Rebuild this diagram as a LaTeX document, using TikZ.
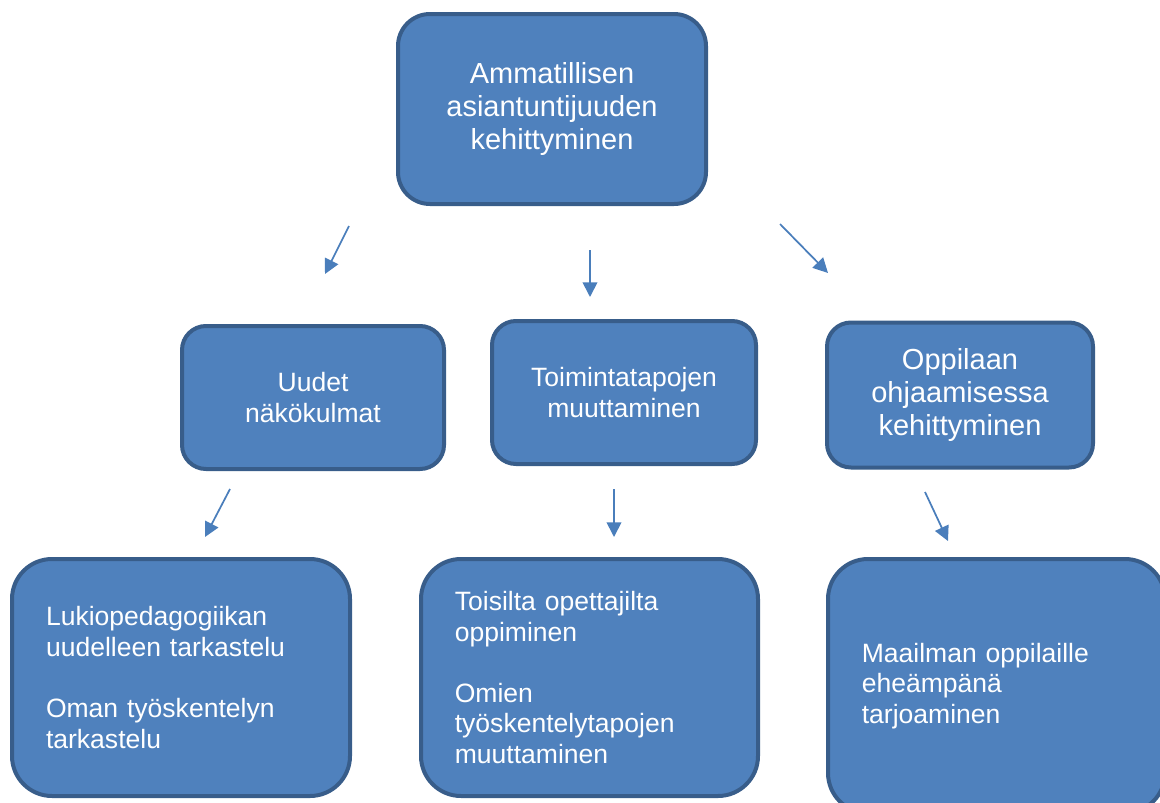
\documentclass[tikz,border=0pt]{standalone}
\usepackage{fontspec}
\setmainfont{Liberation Sans}
\usetikzlibrary{arrows.meta}
\definecolor{boxblue}{RGB}{79,129,189}
\definecolor{boxedge}{RGB}{56,93,138}
\definecolor{arrowblue}{RGB}{74,126,187}
\newcommand{\smalltxt}{\fontsize{19.9pt}{22.9pt}\selectfont}
\newcommand{\bigtxt}{\fontsize{21.75pt}{24.75pt}\selectfont}

\begin{document}
\begin{tikzpicture}[x=0.75pt,y=-0.75pt,
    box/.style={draw=boxedge,fill=boxblue,line width=3pt,text=white,inner sep=0pt},
    arr/.style={draw=arrowblue,line width=1.3pt,-{Triangle[length=11pt,width=11pt]}}]
    \useasboundingbox (0,0) rectangle (1160,803);
    \clip (0,0) rectangle (1160,803);
    % top
    \node[box,rounded corners=24pt,minimum width=231pt,minimum height=142.5pt,font=\bigtxt,align=center] (top) at (552,109) {Ammatillisen\\asiantuntijuuden\\kehittyminen};
    % middle row
    \node[box,rounded corners=18pt,minimum width=196.5pt,minimum height=107.25pt,font=\smalltxt,align=center] (uudet) at (313,397.5) {Uudet\\näkökulmat};
    \node[box,rounded corners=18pt,minimum width=198pt,minimum height=107.25pt,font=\smalltxt,align=center] (toim) at (624,392.5) {Toimintatapojen\\muuttaminen};
    \node[box,rounded corners=18pt,minimum width=199.5pt,minimum height=108.75pt,font=\bigtxt,align=center] (oppi) at (960,395) {Oppilaan\\ohjaamisessa\\kehittyminen};
    % bottom row
    \node[box,rounded corners=30pt,minimum width=253.5pt,minimum height=177.75pt,font=\smalltxt,align=left,text width=202.5pt] (luki) at (181,677.5) {Lukiopedagogiikan\\uudelleen tarkastelu\\[22.9pt]Oman työskentelyn\\tarkastelu};
    \node[box,rounded corners=30pt,minimum width=252.75pt,minimum height=177.75pt,font=\smalltxt,align=left,text width=202pt] (tois) at (589.5,677.5) {Toisilta opettajilta\\oppiminen\\[22.9pt]Omien\\työskentelytapojen\\muuttaminen};
    \node[box,rounded corners=30pt,minimum width=252.75pt,minimum height=190.5pt,font=\smalltxt,align=left,text width=202pt] (maai) at (996.5,686) {Maailman oppilaille\\eheämpänä\\tarjoaminen};
    % arrows
    \coordinate (a1) at (349,226); \coordinate (b1) at (325,274);
    \coordinate (a2) at (590,250); \coordinate (b2) at (590,297);
    \coordinate (a3) at (780,224); \coordinate (b3) at (828,273);
    \coordinate (a4) at (230,489); \coordinate (b4) at (205,537);
    \coordinate (a5) at (614,489); \coordinate (b5) at (614,537);
    \coordinate (a6) at (925,492); \coordinate (b6) at (948,541);
    \foreach \i in {1,...,6}
      \draw[arr] (a\i) -- (b\i);
\end{tikzpicture}
\end{document}
